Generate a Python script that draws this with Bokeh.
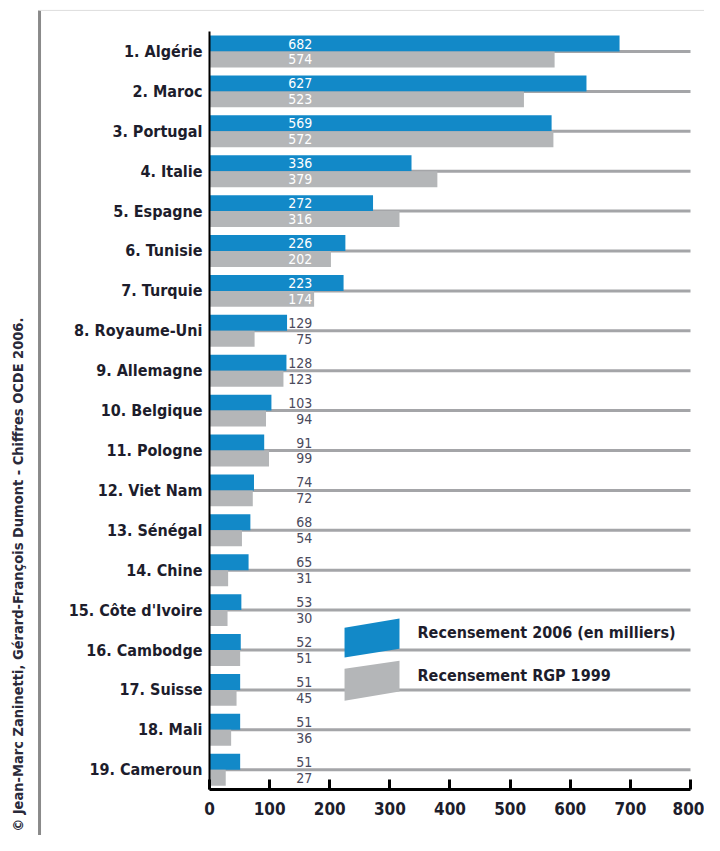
import math
from bokeh.plotting import figure
from bokeh.models import ColumnDataSource, Range1d, Label, FixedTicker, LinearAxis
from bokeh.core.properties import value
from bokeh.embed import file_html
from bokeh.resources import INLINE

countries = ["1. Algérie", "2. Maroc", "3. Portugal", "4. Italie", "5. Espagne",
             "6. Tunisie", "7. Turquie", "8. Royaume-Uni", "9. Allemagne",
             "10. Belgique", "11. Pologne", "12. Viet Nam", "13. Sénégal",
             "14. Chine", "15. Côte d'Ivoire", "16. Cambodge", "17. Suisse",
             "18. Mali", "19. Cameroun"]
v2006 = [682, 627, 569, 336, 272, 226, 223, 129, 128, 103, 91, 74, 68, 65, 53, 52, 51, 51, 51]
v1999 = [574, 523, 572, 379, 316, 202, 174, 75, 123, 94, 99, 72, 54, 31, 30, 51, 45, 36, 27]
x_ticks = [0, 100, 200, 300, 400, 500, 600, 700, 800]
legend_labels = ["Recensement 2006 (en milliers)", "Recensement RGP 1999"]
credit = "© Jean-Marc Zaninetti,  Gérard-François Dumont - Chiffres  OCDE 2006."

BLUE = "#1289c8"
GREY = "#b4b6b8"
LINE = "#a4a5a8"
DARK = "#1d1d2c"
NUM_DARK = "#4a4a5c"
FONT = "DejaVu Sans Condensed"
LABEL_X = 171   # right edge of the value labels (data units)
OFF = 0.2       # half distance between the two bars of a row

n = len(countries)
ypos = [n - 1 - i for i in range(n)]   # first country on top

src = ColumnDataSource(dict(
    y=ypos,
    y_top=[y + OFF for y in ypos],
    y_bot=[y - OFF for y in ypos],
    v2006=v2006,
    v1999=v1999,
    t2006=[str(v) for v in v2006],
    t1999=[str(v) for v in v1999],
    c2006=["white" if v >= 170 else NUM_DARK for v in v2006],
    c1999=["white" if v >= 170 else NUM_DARK for v in v1999],
))

p = figure(width=704, height=835,
           x_range=Range1d(-347.6, 823.3), y_range=Range1d(-1.649, 19.278),
           x_axis_location=None, y_axis_location=None,
           output_backend="svg", toolbar_location=None,
           min_border=0)
p.outline_line_color = None
p.xgrid.visible = False
p.ygrid.visible = False
p.background_fill_color = "white"
p.border_fill_color = "white"

# row guide lines
p.segment(x0=0, x1=800, y0="y", y1="y", source=src, line_color=LINE, line_width=3)

p.hbar(y="y_top", right="v2006", left=0, height=0.4, source=src,
       fill_color=BLUE, line_color=None)
p.hbar(y="y_bot", right="v1999", left=0, height=0.4, source=src,
       fill_color=GREY, line_color=None)

p.text(x=LABEL_X, y="y_top", text="t2006", text_color="c2006", source=src,
       text_align="right", text_baseline="middle",
       text_font=value(FONT), text_font_size="14px")
p.text(x=LABEL_X, y="y_bot", text="t1999", text_color="c1999", source=src,
       text_align="right", text_baseline="middle",
       text_font=value(FONT), text_font_size="14px")

# legend swatches (parallelograms) and texts
p.patches(xs=[[224.6, 316, 316, 224.6], [224.6, 316, 316, 224.6]],
          ys=[[3.56, 3.79, 3.03, 2.81], [2.53, 2.73, 1.96, 1.73]],
          fill_color=[BLUE, GREY], line_color=None)
for lbl, yy in zip(legend_labels, [3.43, 2.36]):
    p.add_layout(Label(x=346, y=yy, text=lbl, text_baseline="middle",
                       text_font=FONT, text_font_style="bold",
                       text_font_size="16px", text_color=DARK))

# page decorations: left rule, top rule, rotated credit
p.segment(x0=[-282.7, -282.7], x1=[-282.7, 840], y0=[19.03, 19.03], y1=[-2, 19.03],
          line_color=["#8a8a8a", "#dddddd"], line_width=[3, 1])
p.add_layout(Label(x=-319, y=5.0, angle=math.pi / 2, text=credit,
                   text_align="center", text_baseline="middle",
                   text_font=FONT, text_font_style="bold",
                   text_font_size="14.5px", text_color="#2a2a3a"))

# x axis, pinned at the bottom of the rows
xaxis = LinearAxis(fixed_location=-0.5, bounds=(0, 800),
                   ticker=FixedTicker(ticks=x_ticks))
xaxis.axis_line_width = 3
xaxis.axis_line_color = "black"
xaxis.major_tick_in = 10
xaxis.major_tick_out = 0
xaxis.major_tick_line_width = 3
xaxis.minor_tick_line_color = None
xaxis.major_label_standoff = 12
xaxis.major_label_text_font = FONT
xaxis.major_label_text_font_style = "bold"
xaxis.major_label_text_font_size = "17px"
xaxis.major_label_text_color = DARK
p.add_layout(xaxis, "below")

# y axis with the country names, pinned at x = 0
yaxis = LinearAxis(fixed_location=0, bounds=(-0.5, n - 0.5),
                   ticker=FixedTicker(ticks=ypos),
                   major_label_overrides={y: c for y, c in zip(ypos, countries)})
yaxis.axis_line_width = 2
yaxis.axis_line_color = "black"
yaxis.major_tick_line_color = None
yaxis.major_tick_in = 0
yaxis.major_tick_out = 0
yaxis.minor_tick_line_color = None
yaxis.major_label_standoff = 7
yaxis.major_label_text_font = FONT
yaxis.major_label_text_font_style = "bold"
yaxis.major_label_text_font_size = "16px"
yaxis.major_label_text_color = DARK
p.add_layout(yaxis, "left")

open("out.html", "w").write(file_html(p, INLINE))
